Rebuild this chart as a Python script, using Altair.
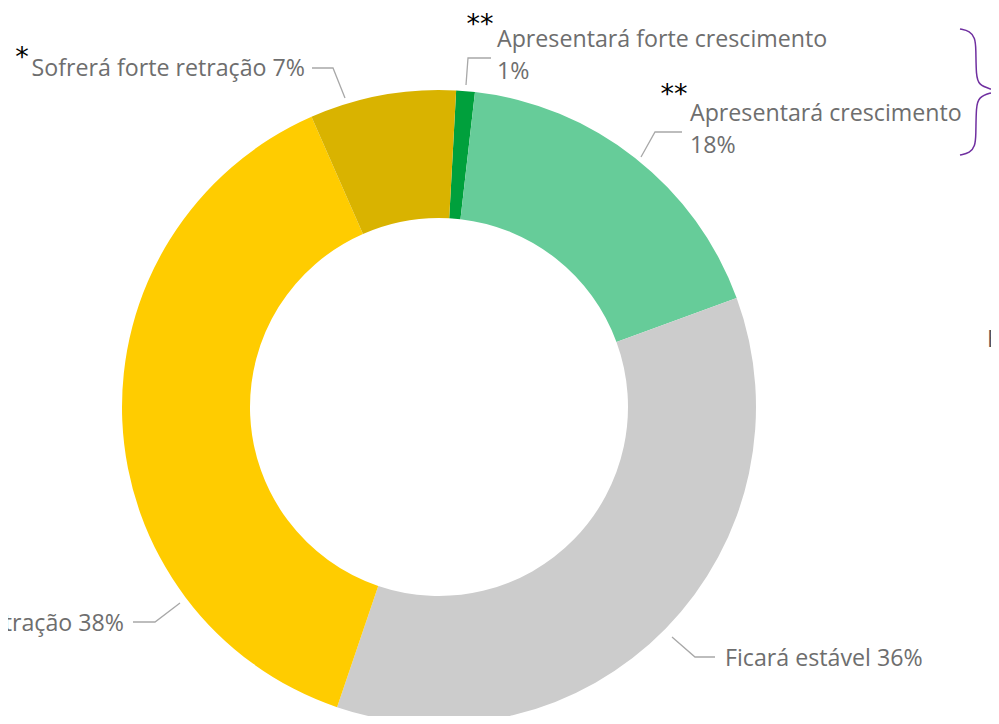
import math
import altair as alt
import pandas as pd

# ---------------- data ----------------
categories = [
    "Apresentará forte crescimento",
    "Apresentará crescimento",
    "Ficará estável",
    "Sofrerá retração",
    "Sofrerá forte retração",
]
values = [0.95, 17.6, 35.8, 38.2, 7.45]
pct_labels = ["1%", "18%", "36%", "38%", "7%"]
colors = ["#00A03C", "#66CC99", "#CCCCCC", "#FFCC00", "#D9B300"]

# ---------------- layout (page px, minus 8px page margin) ----------------
W, H = 983, 708
OFF = 8
CX, CY = 439 - OFF, 407 - OFF
R_OUT, R_IN = 317, 189
START = math.radians(3.1)

df = pd.DataFrame({"cat": categories, "value": values, "ord": list(range(5))})

xs = alt.Scale(domain=[0, W], range=[0, W], nice=False, zero=False)
ys = alt.Scale(domain=[0, H], range=[0, H], nice=False, zero=False)

donut = alt.Chart(df).mark_arc(outerRadius=R_OUT, innerRadius=R_IN).encode(
    theta=alt.Theta("value:Q", stack=True,
                    scale=alt.Scale(range=[START, START + 2 * math.pi])),
    color=alt.Color("cat:N", scale=alt.Scale(domain=categories, range=colors), legend=None),
    order=alt.Order("ord:Q"),
    x=alt.value(CX),
    y=alt.value(CY),
)

# label texts (annotation layout)
label_rows = [
    (categories[4] + " " + pct_labels[4], 305, 69, "right"),
    (categories[0], 497, 40, "left"),
    (pct_labels[0], 497, 72, "left"),
    (categories[1], 690, 114, "left"),
    (pct_labels[1], 690, 146, "left"),
    (categories[2] + " " + pct_labels[2], 725, 659, "left"),
    (categories[3] + " " + pct_labels[3], 124, 624, "right"),
]
ldf = pd.DataFrame([{"t": t, "x": x - OFF, "y": y - OFF, "a": a} for t, x, y, a in label_rows])

def text_layer(sub, align):
    return alt.Chart(sub).mark_text(
        align=align, baseline="middle", font="Open Sans", fontSize=23.2, color="#6E6E6E"
    ).encode(x=alt.X("x:Q", scale=xs, axis=None), y=alt.Y("y:Q", scale=ys, axis=None), text="t:N")

labels_l = text_layer(ldf[ldf.a == "left"], "left")
labels_r = text_layer(ldf[ldf.a == "right"], "right")

# leader lines
leaders = {
    "7": [(312, 68), (333, 68), (345, 98)],
    "1": [(491, 58), (468, 58), (466, 85)],
    "18": [(682, 132), (655, 132), (641, 157)],
    "36": [(715, 657), (695, 657), (672, 637)],
    "38": [(133, 622), (155, 622), (180, 603)],
}
rows = []
for k, pts in leaders.items():
    for i, (x, y) in enumerate(pts):
        rows.append({"k": k, "i": i, "x": x - OFF, "y": y - OFF})
lead = alt.Chart(pd.DataFrame(rows)).mark_line(color="#A8A8A8", strokeWidth=1.3).encode(
    x=alt.X("x:Q", scale=xs, axis=None), y=alt.Y("y:Q", scale=ys, axis=None),
    detail="k:N", order="i:Q")

# asterisks
ast = pd.DataFrame([
    {"t": "*", "x": 22 - OFF, "y": 58 - OFF},
    {"t": "**", "x": 480 - OFF, "y": 25 - OFF},
    {"t": "**", "x": 674 - OFF, "y": 95 - OFF},
])
stars = alt.Chart(ast).mark_text(align="center", baseline="middle", font="DejaVu Sans",
                                 fontSize=27, color="#000000").encode(
    x=alt.X("x:Q", scale=xs, axis=None), y=alt.Y("y:Q", scale=ys, axis=None), text="t:N")

# brace
brace_pts = [(960, 29), (970, 31), (975, 38), (976, 48), (976, 76), (979, 85), (990, 89), (999, 91),
             (990, 93), (979, 97), (976, 106), (976, 136), (975, 146), (970, 153), (960, 155)]
bdf = pd.DataFrame([{"i": i, "x": x - OFF, "y": y - OFF} for i, (x, y) in enumerate(brace_pts)])
brace = alt.Chart(bdf).mark_line(color="#7030A0", strokeWidth=1.5, interpolate="basis").encode(
    x=alt.X("x:Q", scale=xs, axis=None), y=alt.Y("y:Q", scale=ys, axis=None), order="i:Q")

# cut-off text at right
ec = alt.Chart(pd.DataFrame([{"t": "Ec", "x": 987 - OFF, "y": 340 - OFF}])).mark_text(
    align="left", baseline="middle", font="Open Sans", fontSize=23.2, color="#555555").encode(
    x=alt.X("x:Q", scale=xs, axis=None), y=alt.Y("y:Q", scale=ys, axis=None), text="t:N")

chart = alt.layer(donut, lead, labels_l, labels_r, stars, brace, ec).properties(
    width=W, height=H, autosize=alt.AutoSizeParams(type="none"), padding=0
).configure_view(strokeWidth=0)

chart.save("out.html", embed_options={"renderer": "svg", "actions": False})
